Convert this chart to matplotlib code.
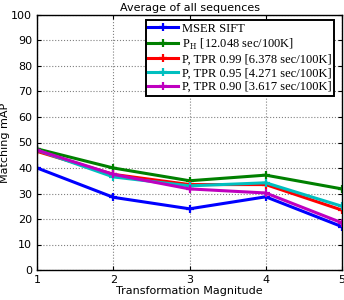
import matplotlib
matplotlib.use("Agg")
import matplotlib.pyplot as plt

magnitude = [1, 2, 3, 4, 5]
mser_sift = [40.0, 28.5, 24.0, 28.7, 17.0]
p_h = [47.5, 40.0, 35.0, 37.2, 31.8]
tpr_099 = [46.5, 37.5, 33.5, 33.5, 23.5]
tpr_095 = [47.0, 36.5, 33.0, 34.2, 25.0]
tpr_090 = [47.0, 37.5, 31.8, 30.2, 18.5]

series = [
    ("MSER SIFT", mser_sift, "#0000ff"),
    (r"P$_{\mathrm{H}}$ [12.048 sec/100K]", p_h, "#008000"),
    ("P, TPR 0.99 [6.378 sec/100K]", tpr_099, "#ff0000"),
    ("P, TPR 0.95 [4.271 sec/100K]", tpr_095, "#00bfbf"),
    ("P, TPR 0.90 [3.617 sec/100K]", tpr_090, "#bf00bf"),
]

plt.rcParams["font.family"] = ["DejaVu Sans"]
plt.rcParams["mathtext.fontset"] = "cm"

fig = plt.figure(figsize=(3.44, 3.0), dpi=100)
ax = fig.add_axes([0.108, 0.1, 0.886, 0.85])

for label, vals, color in series:
    ax.plot(magnitude, vals, color=color, lw=2.2, marker="+", ms=6, mew=1.6, label=label)

ax.set_xlim(1, 5)
ax.set_ylim(0, 100)
ax.set_xticks(magnitude)
ax.set_yticks(range(0, 101, 10))
ax.tick_params(direction="in", labelsize=8, length=3, top=True, right=True)
ax.grid(True, linestyle=":", color="#808080", lw=0.8)
for s in ax.spines.values():
    s.set_linewidth(1.0)

ax.set_xlabel("Transformation Magnitude", fontsize=8, labelpad=1)
ax.set_ylabel("Matching mAP", fontsize=8, labelpad=1)
ax.set_title("Average of all sequences", fontsize=8, pad=3)

leg = ax.legend(loc="upper right", bbox_to_anchor=(0.975, 0.98),
                prop={"family": "Liberation Serif", "size": 9},
                fancybox=False, framealpha=1, edgecolor="black", borderpad=0.2,
                labelspacing=0.15, handlelength=2.4, handletextpad=0.3,
                borderaxespad=0.0)
leg.get_frame().set_linewidth(1.4)

fig.savefig("out.png", dpi=100)
